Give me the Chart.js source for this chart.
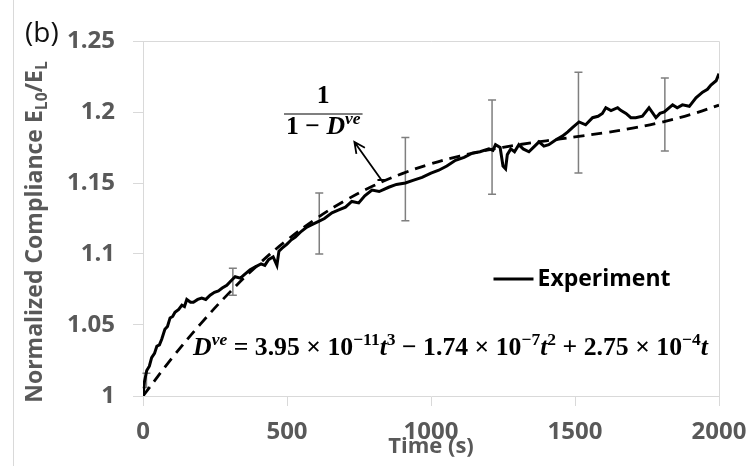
<!DOCTYPE html>
<html>
<head>
<meta charset="utf-8">
<script src="https://cdn.jsdelivr.net/npm/chart.js"></script>
<style>
  body { margin: 0; background: #fff; }
  canvas { display: block; }
</style>
</head>
<body>
<canvas id="chart" width="750" height="466"></canvas>
<script>
const expTime = [0, 5, 13, 22, 30, 40, 48, 57, 65, 76, 85, 94, 103, 111, 124, 135, 144, 152, 165, 175, 190, 204, 218, 233, 248, 262, 275,
  291, 305, 320, 338, 355, 372, 390, 410, 423, 436, 452, 465, 472, 482, 500, 515, 529, 550, 569, 590, 610,
  630, 656, 680, 703, 725, 749, 770, 795, 820, 853, 880, 911, 940, 969, 1000, 1027, 1055, 1085, 1115, 1143,
  1170, 1201, 1215, 1224, 1240, 1250, 1259, 1265, 1277, 1290, 1305, 1320, 1340, 1360, 1375, 1392, 1409, 1430, 1456, 1475,
  1491, 1514, 1537, 1561, 1580, 1595, 1607, 1625, 1648, 1660, 1677, 1694, 1711, 1734, 1757, 1781, 1795, 1810, 1839, 1855,
  1873, 1897, 1920, 1943, 1960, 1972, 1990, 2000];
const expValue = [1.000, 1.010, 1.018, 1.021, 1.027, 1.030, 1.035, 1.036, 1.040, 1.047, 1.049, 1.055, 1.056, 1.059, 1.061, 1.064, 1.063, 1.068, 1.066, 1.066, 1.068, 1.069, 1.068, 1.071, 1.073, 1.074, 1.076,
  1.078, 1.081, 1.084, 1.083, 1.086, 1.089, 1.091, 1.093, 1.092, 1.096, 1.098, 1.092, 1.102, 1.104, 1.107, 1.110, 1.112, 1.116, 1.119, 1.121, 1.123,
  1.125, 1.129, 1.131, 1.133, 1.137, 1.136, 1.141, 1.145, 1.144, 1.147, 1.149, 1.150, 1.152, 1.154, 1.157, 1.159, 1.162, 1.166, 1.168, 1.171,
  1.172, 1.174, 1.173, 1.177, 1.175, 1.162, 1.160, 1.170, 1.174, 1.172, 1.177, 1.174, 1.172, 1.176, 1.179, 1.176, 1.177, 1.180, 1.183, 1.186,
  1.189, 1.193, 1.191, 1.196, 1.197, 1.199, 1.203, 1.201, 1.203, 1.201, 1.199, 1.196, 1.196, 1.197, 1.203, 1.196, 1.199, 1.200, 1.205, 1.203,
  1.205, 1.204, 1.210, 1.214, 1.216, 1.219, 1.222, 1.227];

// 1/(1 - Dve) curve (dashed)
const fitTime = [0, 100, 200, 300, 400, 500, 600, 700, 800, 900, 1000, 1100, 1200, 1300, 1400, 1500, 1600, 1700, 1800, 1900, 2000];
const fitValue = [1.000, 1.0265, 1.0508, 1.0728, 1.0925, 1.1098, 1.1247, 1.1374, 1.1480, 1.1566, 1.1635, 1.1690, 1.1733, 1.1768, 1.1797, 1.1825, 1.1853, 1.1886, 1.1928, 1.1981, 1.2048];

// error bars
const errTime = [12, 312, 612, 911, 1212, 1512, 1812];
const errLow = [1.006, 1.071, 1.100, 1.1235, 1.142, 1.157, 1.1725];
const errHigh = [1.016, 1.090, 1.143, 1.182, 1.2085, 1.228, 1.224];

const GREY = "#595959";
const AXIS = "#d9d9d9";

const frame = {
  id: "frame",
  beforeDatasetsDraw(chart) {
    const { ctx, chartArea: a, scales: { x, y } } = chart;
    ctx.save();
    ctx.strokeStyle = AXIS;
    ctx.lineWidth = 1;
    ctx.beginPath();
    ctx.moveTo(13.5, 0);
    ctx.lineTo(13.5, chart.height);
    ctx.moveTo(a.left, a.top + 0.5);
    ctx.lineTo(a.right + 0.5, a.top + 0.5);
    ctx.lineTo(a.right + 0.5, a.bottom);
    ctx.stroke();

    ctx.strokeStyle = "#7f7f7f";
    ctx.lineWidth = 1.5;
    errTime.forEach((t, i) => {
      const px = x.getPixelForValue(t);
      const top = y.getPixelForValue(errHigh[i]);
      const bot = y.getPixelForValue(errLow[i]);
      ctx.beginPath();
      ctx.moveTo(px, top);
      ctx.lineTo(px, bot);
      ctx.moveTo(px - 4, top);
      ctx.lineTo(px + 4, top);
      ctx.moveTo(px - 4, bot);
      ctx.lineTo(px + 4, bot);
      ctx.stroke();
    });
    ctx.restore();
  }
};

// draws [text, style, sup, sub] pieces left to right, returns width
function rich(ctx, parts, x, y, size, family, draw) {
  let cx = x;
  parts.forEach(([txt, style, sup, sub]) => {
    const s = sup || sub ? size * 0.68 : size;
    ctx.font = `${style} ${s}px ${family}`;
    const dy = sup ? -size * 0.4 : sub ? size * 0.22 : 0;
    if (draw) ctx.fillText(txt, cx, y + dy);
    cx += ctx.measureText(txt).width;
  });
  return cx - x;
}

const annotations = {
  id: "annotations",
  afterDraw(chart) {
    const { ctx, chartArea: a, scales: { x, y } } = chart;
    ctx.save();
    ctx.textBaseline = "alphabetic";
    ctx.textAlign = "left";

    // y axis title
    const sans = '"Open Sans"';
    const yTitle = [["Normalized Compliance E", "bold"], ["L0", "bold", false, true], ["/E", "bold"], ["L", "bold", false, true]];
    ctx.fillStyle = GREY;
    const yw = rich(ctx, yTitle, 0, 0, 23, sans, false);
    ctx.translate(42, 232);
    ctx.rotate(-Math.PI / 2);
    rich(ctx, yTitle, -yw / 2, 0, 23, sans, true);
    ctx.setTransform(1, 0, 0, 1, 0, 0);

    // x axis title
    ctx.font = `bold 22px ${sans}`;
    ctx.textAlign = "center";
    ctx.fillText("Time (s)", x.getPixelForValue(1000), 453);

    // panel label
    ctx.fillStyle = "#111";
    ctx.textAlign = "left";
    ctx.font = `28px ${sans}`;
    ctx.fillText("(b)", 25, 42);

    // legend
    const lx = x.getPixelForValue(1217);
    const ly = y.getPixelForValue(1.0824);
    ctx.strokeStyle = "#000";
    ctx.lineWidth = 2.8;
    ctx.beginPath();
    ctx.moveTo(lx, ly);
    ctx.lineTo(lx + 40, ly);
    ctx.stroke();
    ctx.fillStyle = "#000";
    ctx.font = `bold 23px ${sans}`;
    ctx.textBaseline = "middle";
    ctx.fillText("Experiment", lx + 44, ly);
    ctx.textBaseline = "alphabetic";

    // equation
    const serif = '"Liberation Serif"';
    const eq = [["D", "italic bold"], ["ve", "italic bold", true], [" = 3.95 × 10", "bold"], ["−11", "bold", true],
      ["t", "italic bold"], ["3", "bold", true], [" − 1.74 × 10", "bold"], ["−7", "bold", true],
      ["t", "italic bold"], ["2", "bold", true], [" + 2.75 × 10", "bold"], ["−4", "bold", true], ["t", "italic bold"]];
    const ex = x.getPixelForValue(174);
    const ey = y.getPixelForValue(1.0289);
    const w0 = rich(ctx, eq, 0, 0, 20, serif, false);
    const es = 20 * 515 / w0;
    rich(ctx, eq, ex, ey, es, serif, true);

    // fraction 1 / (1 - Dve)
    const fx = x.getPixelForValue(626);
    const fy = y.getPixelForValue(1.1986);
    const den = [["1 − ", "bold"], ["D", "italic bold"], ["ve", "italic bold", true]];
    const dw = rich(ctx, den, 0, 0, es, serif, false);
    rich(ctx, den, fx - dw / 2, fy + 20, es, serif, true);
    ctx.font = `bold ${es}px ${serif}`;
    ctx.textAlign = "center";
    ctx.fillText("1", fx, fy - 11);
    ctx.lineWidth = 1.2;
    ctx.beginPath();
    ctx.moveTo(fx - dw / 2 - 2, fy);
    ctx.lineTo(fx + dw / 2 + 2, fy);
    ctx.stroke();

    // arrow
    const ax0 = x.getPixelForValue(828), ay0 = y.getPixelForValue(1.1521);
    const ax1 = x.getPixelForValue(734), ay1 = y.getPixelForValue(1.1789);
    const ang = Math.atan2(ay1 - ay0, ax1 - ax0);
    ctx.lineWidth = 1.8;
    ctx.beginPath();
    ctx.moveTo(ax0, ay0);
    ctx.lineTo(ax1, ay1);
    ctx.moveTo(ax1 + 12 * Math.cos(ang + Math.PI - 0.45), ay1 + 12 * Math.sin(ang + Math.PI - 0.45));
    ctx.lineTo(ax1, ay1);
    ctx.lineTo(ax1 + 12 * Math.cos(ang + Math.PI + 0.45), ay1 + 12 * Math.sin(ang + Math.PI + 0.45));
    ctx.moveTo(ax0 - 4, ay0);
    ctx.lineTo(ax0 + 4, ay0);
    ctx.stroke();
    ctx.restore();
  }
};

new Chart(document.getElementById("chart"), {
  type: "line",
  data: {
    datasets: [
      {
        label: "Experiment",
        data: expTime.map((t, i) => ({ x: t, y: expValue[i] })),
        borderColor: "#000",
        borderWidth: 3,
        pointRadius: 0,
        tension: 0,
      },
      {
        label: "1/(1-Dve)",
        data: fitTime.map((t, i) => ({ x: t, y: fitValue[i] })),
        borderColor: "#000",
        borderWidth: 2.8,
        borderDash: [11, 7],
        pointRadius: 0,
        tension: 0.4,
      },
    ],
  },
  options: {
    responsive: false,
    animation: false,
    layout: { padding: { top: 41, right: 31, left: 0, bottom: 0 } },
    plugins: { legend: { display: false }, tooltip: { enabled: false } },
    scales: {
      x: {
        type: "linear",
        min: 0,
        max: 2000,
        afterFit(s) {
          s.height = 70;
          s.paddingLeft = 0;
          s.paddingRight = 0;
        },
        ticks: {
          stepSize: 500,
          color: GREY,
          padding: 12,
          font: { family: "Open Sans", weight: "bold", size: 24 },
          callback: (v) => String(v),
        },
        grid: { drawOnChartArea: false, tickLength: 10, color: AXIS },
        border: { color: AXIS },
      },
      y: {
        min: 1,
        max: 1.25,
        afterFit(s) { s.width = 143; },
        ticks: {
          stepSize: 0.05,
          color: GREY,
          padding: 18,
          font: { family: "Open Sans", weight: "bold", size: 24 },
          callback: (v) => String(Math.round(v * 100) / 100),
        },
        grid: { drawOnChartArea: false, tickLength: 10, color: AXIS },
        border: { color: AXIS },
      },
    },
  },
  plugins: [frame, annotations],
});
</script>
</body>
</html>
